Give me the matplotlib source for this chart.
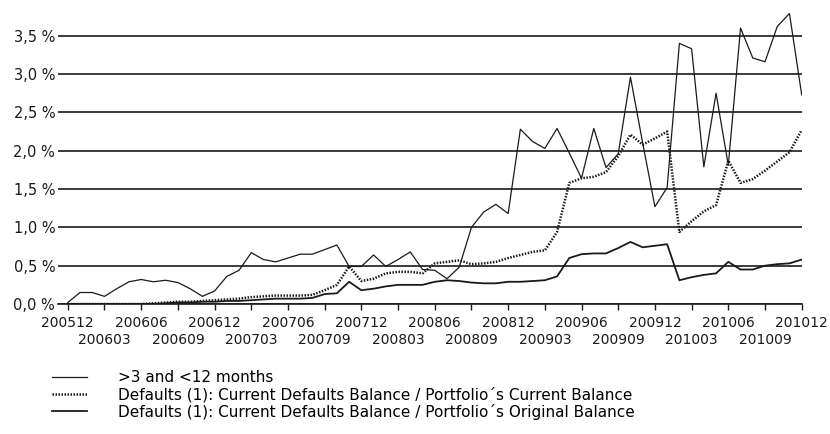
import numpy as np
import matplotlib
matplotlib.use("Agg")
import matplotlib.pyplot as plt

# monthly observations 200512 .. 201012
arrears_3_12 = [0.02, 0.15, 0.15, 0.10, 0.20, 0.29, 0.32, 0.29, 0.31, 0.28,
                0.20, 0.10, 0.17, 0.36, 0.44, 0.67, 0.58, 0.55, 0.60, 0.65,
                0.65, 0.71, 0.77, 0.49, 0.49, 0.64, 0.49, 0.58, 0.68, 0.45,
                0.44, 0.33, 0.48, 1.00, 1.20, 1.30, 1.18, 2.28, 2.12, 2.03,
                2.29, 1.97, 1.64, 2.29, 1.78, 1.96, 2.96, 2.10, 1.27, 1.52,
                3.40, 3.33, 1.79, 2.75, 1.81, 3.60, 3.21, 3.16, 3.62, 3.79,
                2.73]
defaults_current = [0.00, 0.00, 0.00, 0.00, 0.00, 0.00, 0.00, 0.01, 0.02, 0.03,
                    0.03, 0.04, 0.05, 0.06, 0.07, 0.09, 0.10, 0.11, 0.11, 0.11,
                    0.12, 0.18, 0.25, 0.49, 0.30, 0.33, 0.40, 0.42, 0.42, 0.40,
                    0.53, 0.55, 0.57, 0.52, 0.53, 0.55, 0.60, 0.64, 0.68, 0.70,
                    0.94, 1.58, 1.64, 1.66, 1.72, 1.93, 2.21, 2.08, 2.16, 2.25,
                    0.94, 1.08, 1.21, 1.29, 1.87, 1.58, 1.63, 1.74, 1.86, 1.98,
                    2.27]
defaults_original = [0.00, 0.00, 0.00, 0.00, 0.00, 0.00, 0.00, 0.00, 0.01, 0.02,
                     0.02, 0.03, 0.03, 0.04, 0.04, 0.05, 0.06, 0.07, 0.07, 0.07,
                     0.08, 0.13, 0.14, 0.29, 0.18, 0.20, 0.23, 0.25, 0.25, 0.25,
                     0.29, 0.31, 0.30, 0.28, 0.27, 0.27, 0.29, 0.29, 0.30, 0.31,
                     0.36, 0.60, 0.65, 0.66, 0.66, 0.73, 0.81, 0.74, 0.76, 0.78,
                     0.31, 0.35, 0.38, 0.40, 0.55, 0.45, 0.45, 0.50, 0.52, 0.53,
                     0.58]

labels_row1 = ['200512', '200606', '200612', '200706', '200712', '200806',
               '200812', '200906', '200912', '201006', '201012']
labels_row2 = ['200603', '200609', '200703', '200709', '200803', '200809',
               '200903', '200909', '201003', '201009']
y_ticks = [0.0, 0.5, 1.0, 1.5, 2.0, 2.5, 3.0, 3.5]
y_labels = ['0,0 %', '0,5 %', '1,0 %', '1,5 %', '2,0 %', '2,5 %', '3,0 %', '3,5 %']

legend_labels = ['>3 and <12 months',
                 'Defaults (1): Current Defaults Balance / Portfolio\u00b4s Current Balance',
                 'Defaults (1): Current Defaults Balance / Portfolio\u00b4s Original Balance']

x = np.arange(len(arrears_3_12))
ink = '#1a1a1a'

fig = plt.figure(figsize=(8.3, 4.34), dpi=100)
ax = fig.add_axes([0.0699, 0.2995, 0.896, 0.68])

h1, = ax.plot(x, arrears_3_12, color=ink, lw=0.9)
h2, = ax.plot(x, defaults_current, color=ink, lw=1.8, linestyle=(0, (0.6, 0.6)))
h3, = ax.plot(x, defaults_original, color=ink, lw=1.3)

ax.set_xlim(-0.8, 60.0)
ax.set_ylim(0, 3.85)

ax.set_yticks(y_ticks)
ax.set_yticklabels(y_labels)
ax.yaxis.grid(True, color=ink, lw=1.2)
ax.set_axisbelow(True)

ax.set_xticks(np.arange(0, 61, 6))
ax.set_xticklabels(labels_row1)
ax.set_xticks(np.arange(3, 60, 6), minor=True)
ax.set_xticklabels(labels_row2, minor=True)

for s in ['left', 'right', 'top']:
    ax.spines[s].set_visible(False)
ax.spines['bottom'].set_color(ink)
ax.spines['bottom'].set_linewidth(1.2)

ax.tick_params(axis='y', length=0, pad=2, labelsize=10.5, labelcolor=ink)
ax.tick_params(axis='x', which='major', direction='out', length=4, width=1,
               color=ink, pad=4.5, labelsize=10, labelcolor=ink)
ax.tick_params(axis='x', which='minor', direction='out', length=4, width=1,
               color=ink, pad=17, labelsize=10, labelcolor=ink)

# legend under the plot, no frame
fig.legend([h1, h2, h3], legend_labels, loc='upper left',
           bbox_to_anchor=(0.063, 0.147), frameon=False, fontsize=11,
           handlelength=2.3, handletextpad=2.0, labelspacing=0.1,
           borderaxespad=0, borderpad=0)

fig.savefig('out.png', dpi=100)
